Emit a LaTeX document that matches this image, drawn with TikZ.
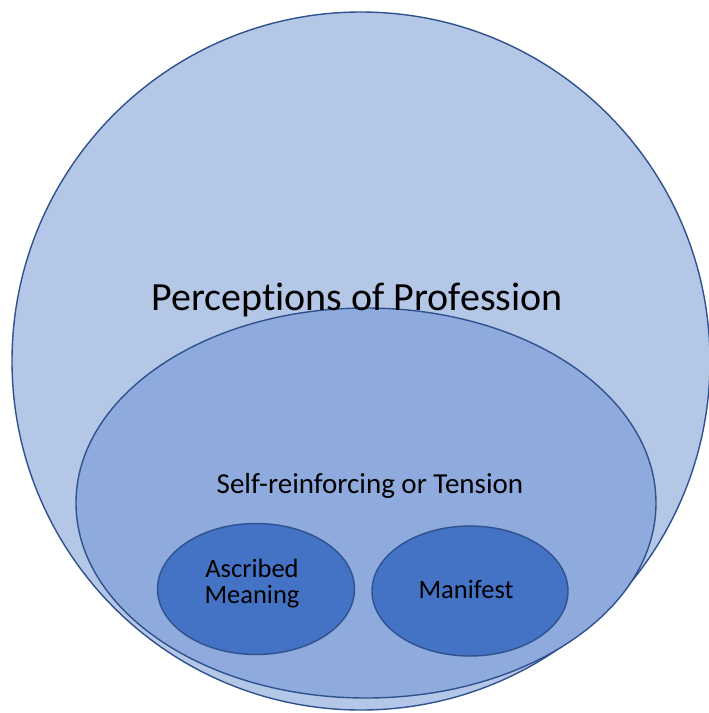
\documentclass[tikz,border=0pt]{standalone}
\usepackage{fontspec}
\setmainfont[RawFeature={-liga;-calt;-dlig}]{Carlito}
\usetikzlibrary{shapes.geometric}
\definecolor{outerfill}{HTML}{B4C7E7}
\definecolor{midfill}{HTML}{8FAADC}
\definecolor{innerfill}{HTML}{4472C4}
\definecolor{edge}{HTML}{2F528F}
\begin{document}
\begin{tikzpicture}[x=1pt,y=-1pt,
  blob/.style={ellipse,draw=edge,line width=1.4pt,inner sep=0pt,outer sep=0pt},
  lbl/.style={text=black,inner sep=0pt,align=center}]
\useasboundingbox (0,0) rectangle (709,713);
\node[blob,fill=outerfill,minimum width=698pt,minimum height=698pt] (outer) at (361,361) {};
\node[blob,fill=midfill,minimum width=580pt,minimum height=390pt] (mid) at (366,503) {};
\node[blob,fill=innerfill,minimum width=197pt,minimum height=131pt] (asc) at (256,589) {};
\node[blob,fill=innerfill,minimum width=196pt,minimum height=130pt] (man) at (470,591) {};
\node[lbl,font=\fontsize{40}{48}\selectfont,anchor=base] (t1) at (357,310) {Percept\kern0pt ions of Profess\kern0pt ion};
\node[lbl,font=\fontsize{29}{34}\selectfont,anchor=base] (t2) at (370,493) {Self-reinforcing or Tens\kern0pt ion};
\node[lbl,font=\fontsize{26.5}{26}\selectfont,anchor=base] (t3) at (252,603) {Ascribed\\Meaning};
\node[lbl,font=\fontsize{26.5}{28}\selectfont,anchor=base] (t4) at (466,598) {Manifest};
\end{tikzpicture}
\end{document}
